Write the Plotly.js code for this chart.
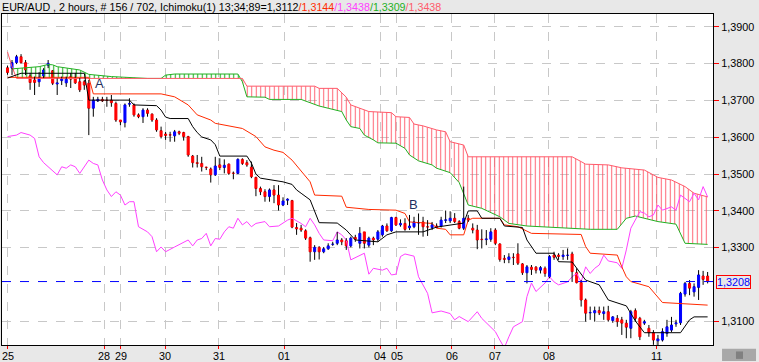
<!DOCTYPE html>
<html><head><meta charset="utf-8">
<script src="https://cdn.plot.ly/plotly-3.0.1.min.js"></script>
<style>html,body{margin:0;padding:0;background:#e8e8e8;}#chart{width:759px;height:362px;}</style>
</head><body><div id="chart"></div>
<script>
// ---- candles (2-hour bars, EUR/AUD) ----
const opens = [1.3789,1.3788,1.3803,1.3819,1.3803,1.3767,1.3756,1.3751,1.3767,1.3796,
1.3781,1.3745,1.3754,1.3748,1.3765,1.3762,1.3751,1.3751,1.3747,1.3679,
1.3699,1.3703,1.3701,1.3701,1.3692,1.3647,1.3640,1.3690,1.3688,1.3661,
1.3656,1.3674,1.3663,1.3647,1.3618,1.3609,1.3607,1.3604,1.3615,1.3613,
1.3602,1.3549,1.3531,1.3529,1.3519,1.3514,1.3498,1.3525,1.3518,1.3527,
1.3503,1.3502,1.3540,1.3531,1.3519,1.3491,1.3461,1.3452,1.3439,1.3457,
1.3443,1.3416,1.3429,1.3428,1.3355,1.3353,1.3346,1.3327,1.3289,1.3301,
1.3289,1.3297,1.3309,1.3312,1.3321,1.3319,1.3305,1.3328,1.3312,1.3343,
1.3307,1.3326,1.3323,1.3335,1.3359,1.3346,1.3382,1.3362,1.3366,1.3354,
1.3357,1.3367,1.3370,1.3357,1.3355,1.3359,1.3359,1.3374,1.3373,1.3380,
1.3371,1.3353,1.3380,1.3353,1.3348,1.3323,1.3322,1.3323,1.3348,1.3310,
1.3271,1.3268,1.3274,1.3283,1.3256,1.3232,1.3247,1.3247,1.3239,1.3244,
1.3221,1.3280,1.3280,1.3276,1.3279,1.3283,1.3232,1.3205,1.3158,1.3123,
1.3123,1.3129,1.3121,1.3126,1.3102,1.3108,1.3104,1.3095,1.3081,1.3129,
1.3108,1.3095,1.3081,1.3069,1.3047,1.3049,1.3067,1.3076,1.3093,1.3096,
1.3174,1.3203,1.3180,1.3192,1.3223,1.3223];
const highs = [1.3795,1.3810,1.3824,1.3826,1.3810,1.3775,1.3765,1.3777,1.3788,1.3810,
1.3783,1.3760,1.3765,1.3765,1.3775,1.3775,1.3761,1.3756,1.3756,1.3710,
1.3710,1.3710,1.3710,1.3715,1.3697,1.3647,1.3692,1.3706,1.3692,1.3665,
1.3679,1.3679,1.3665,1.3652,1.3629,1.3615,1.3615,1.3620,1.3618,1.3615,
1.3604,1.3552,1.3552,1.3547,1.3520,1.3518,1.3547,1.3543,1.3540,1.3529,
1.3507,1.3543,1.3543,1.3538,1.3534,1.3493,1.3466,1.3459,1.3461,1.3470,
1.3470,1.3437,1.3434,1.3430,1.3367,1.3362,1.3350,1.3330,1.3307,1.3304,
1.3302,1.3312,1.3316,1.3343,1.3326,1.3326,1.3330,1.3335,1.3356,1.3343,
1.3330,1.3330,1.3348,1.3362,1.3366,1.3384,1.3384,1.3377,1.3380,1.3389,
1.3384,1.3393,1.3384,1.3375,1.3370,1.3366,1.3384,1.3401,1.3399,1.3394,
1.3375,1.3466,1.3389,1.3366,1.3362,1.3350,1.3348,1.3353,1.3353,1.3312,
1.3280,1.3285,1.3285,1.3312,1.3258,1.3253,1.3253,1.3250,1.3250,1.3249,
1.3280,1.3289,1.3285,1.3294,1.3298,1.3289,1.3244,1.3212,1.3162,1.3140,
1.3140,1.3140,1.3140,1.3142,1.3114,1.3117,1.3112,1.3104,1.3131,1.3135,
1.3112,1.3104,1.3090,1.3076,1.3063,1.3081,1.3104,1.3112,1.3104,1.3180,
1.3207,1.3212,1.3203,1.3239,1.3237,1.3234];
const lows = [1.3770,1.3769,1.3799,1.3801,1.3769,1.3729,1.3715,1.3737,1.3761,1.3788,
1.3742,1.3715,1.3742,1.3737,1.3734,1.3745,1.3723,1.3729,1.3606,1.3656,
1.3696,1.3696,1.3683,1.3683,1.3642,1.3633,1.3627,1.3683,1.3656,1.3652,
1.3639,1.3656,1.3642,1.3615,1.3597,1.3593,1.3588,1.3588,1.3606,1.3591,
1.3547,1.3518,1.3518,1.3507,1.3511,1.3477,1.3495,1.3511,1.3502,1.3498,
1.3486,1.3500,1.3525,1.3520,1.3489,1.3440,1.3443,1.3425,1.3425,1.3421,
1.3401,1.3413,1.3416,1.3353,1.3335,1.3343,1.3321,1.3262,1.3267,1.3268,
1.3285,1.3294,1.3305,1.3307,1.3307,1.3294,1.3301,1.3316,1.3298,1.3298,
1.3301,1.3307,1.3316,1.3330,1.3343,1.3343,1.3359,1.3357,1.3346,1.3348,
1.3353,1.3335,1.3330,1.3332,1.3348,1.3353,1.3355,1.3367,1.3367,1.3367,
1.3350,1.3348,1.3370,1.3339,1.3296,1.3298,1.3307,1.3316,1.3307,1.3262,
1.3258,1.3258,1.3253,1.3253,1.3226,1.3203,1.3226,1.3230,1.3230,1.3221,
1.3217,1.3267,1.3267,1.3267,1.3267,1.3207,1.3203,1.3140,1.3099,1.3104,
1.3099,1.3117,1.3104,1.3099,1.3096,1.3085,1.3063,1.3054,1.3054,1.3099,
1.3049,1.3090,1.3058,1.3036,1.3031,1.3045,1.3058,1.3071,1.3085,1.3090,
1.3167,1.3171,1.3167,1.3158,1.3199,1.3203];
const closes = [1.3776,1.3803,1.3819,1.3803,1.3783,1.3749,1.3749,1.3763,1.3783,1.3801,
1.3747,1.3748,1.3760,1.3758,1.3758,1.3748,1.3729,1.3742,1.3679,1.3701,
1.3703,1.3699,1.3700,1.3694,1.3647,1.3642,1.3688,1.3692,1.3661,1.3656,
1.3674,1.3665,1.3647,1.3620,1.3602,1.3605,1.3606,1.3615,1.3611,1.3602,
1.3552,1.3531,1.3529,1.3520,1.3518,1.3498,1.3522,1.3518,1.3524,1.3502,
1.3502,1.3540,1.3529,1.3525,1.3493,1.3461,1.3452,1.3439,1.3457,1.3443,
1.3416,1.3427,1.3432,1.3356,1.3351,1.3348,1.3326,1.3289,1.3301,1.3289,
1.3297,1.3305,1.3310,1.3321,1.3316,1.3305,1.3326,1.3323,1.3339,1.3312,
1.3326,1.3321,1.3343,1.3359,1.3346,1.3382,1.3362,1.3366,1.3350,1.3359,
1.3370,1.3368,1.3357,1.3356,1.3362,1.3355,1.3375,1.3376,1.3380,1.3371,
1.3353,1.3380,1.3375,1.3348,1.3321,1.3322,1.3324,1.3343,1.3312,1.3268,
1.3268,1.3275,1.3273,1.3258,1.3232,1.3248,1.3241,1.3239,1.3246,1.3230,
1.3276,1.3274,1.3276,1.3280,1.3280,1.3235,1.3205,1.3158,1.3122,1.3124,
1.3129,1.3123,1.3126,1.3104,1.3112,1.3099,1.3095,1.3084,1.3126,1.3108,
1.3058,1.3099,1.3069,1.3049,1.3052,1.3072,1.3085,1.3090,1.3096,1.3176,
1.3203,1.3190,1.3194,1.3226,1.3214,1.3208];

// ---- Ichimoku lines (bar index / value at the line's corners) ----
const tenkanBar = [0,3,17,18,27,28,33,34,35,36,40,41,42,43,45,46,47,53,54,55,56,59,61,63,64,65,67,69,73,75,77,82,84,86,92,95,101,102,104,105,109,110,114,115,117,121,122,125,128,131,133,137,139,141,149,151,152,155];
const tenkanVal = [1.3761,1.3774,1.3774,1.3701,1.3701,1.3688,1.3686,1.3674,1.3655,1.3651,1.3651,1.3629,1.3613,1.3601,1.3593,1.3580,1.3549,1.3549,1.3530,1.3500,1.3489,1.3484,1.3479,1.3472,1.3457,1.3448,1.3430,1.3368,1.3367,1.3348,1.3321,1.3316,1.3335,1.3343,1.3343,1.3356,1.3367,1.3400,1.3400,1.3380,1.3380,1.3359,1.3355,1.3321,1.3285,1.3285,1.3262,1.3261,1.3212,1.3199,1.3158,1.3142,1.3101,1.3069,1.3069,1.3104,1.3112,1.3112];

const kijunBar = [0,18,19,34,37,40,42,45,46,49,52,55,57,59,61,63,65,67,68,74,75,80,86,88,89,94,95,97,98,101,102,103,109,110,113,116,127,128,129,135,136,137,138,142,145,155];
const kijunVal = [1.3763,1.3763,1.3718,1.3718,1.3710,1.3688,1.3661,1.3647,1.3638,1.3631,1.3624,1.3602,1.3574,1.3565,1.3559,1.3538,1.3507,1.3479,1.3443,1.3440,1.3410,1.3404,1.3402,1.3393,1.3370,1.3366,1.3353,1.3350,1.3335,1.3335,1.3375,1.3380,1.3380,1.3362,1.3357,1.3339,1.3336,1.3303,1.3285,1.3280,1.3248,1.3221,1.3208,1.3194,1.3151,1.3144];

const chikouBar = [0,2,3,5,6,7,8,9,10,11,12,13,14,15,16,17,18,19,20,21,22,23,24,25,26,27,28,29,31,32,33,34,35,37,39,40,41,42,43,44,45,46,47,48,49,50,51,52,53,54,55,57,58,60,62,63,65,66,67,68,69,70,72,73,74,75,76,78,79,80,81,83,84,85,86,87,88,90,91,93,94,96,98,99,100,102,104,105,108,109,110,111,112,114,115,116,117,119,120,121,122,124,125,126,127,128,129,130,131,132,133,135,136,137,138,140,141,142,143,144,145,147,148,149,150,151,152,153,154,155];
const chikouVal = [1.3602,1.3606,1.3613,1.3606,1.3597,1.3547,1.3531,1.3520,1.3511,1.3498,1.3520,1.3516,1.3525,1.3520,1.3502,1.3520,1.3538,1.3529,1.3525,1.3484,1.3457,1.3439,1.3452,1.3443,1.3416,1.3425,1.3425,1.3357,1.3343,1.3330,1.3289,1.3302,1.3289,1.3302,1.3316,1.3321,1.3305,1.3321,1.3325,1.3339,1.3305,1.3325,1.3323,1.3343,1.3357,1.3353,1.3380,1.3362,1.3371,1.3357,1.3366,1.3371,1.3357,1.3359,1.3375,1.3380,1.3366,1.3357,1.3380,1.3362,1.3339,1.3321,1.3319,1.3343,1.3335,1.3321,1.3267,1.3280,1.3285,1.3228,1.3244,1.3239,1.3244,1.3226,1.3228,1.3276,1.3283,1.3277,1.3221,1.3176,1.3123,1.3128,1.3121,1.3104,1.3113,1.3099,1.3126,1.3108,1.3072,1.3049,1.3028,1.3058,1.3085,1.3099,1.3167,1.3204,1.3181,1.3204,1.3221,1.3207,1.3199,1.3207,1.3221,1.3230,1.3207,1.3248,1.3230,1.3244,1.3253,1.3280,1.3264,1.3259,1.3244,1.3294,1.3353,1.3398,1.3394,1.3384,1.3389,1.3416,1.3402,1.3411,1.3402,1.3443,1.3434,1.3425,1.3448,1.3430,1.3466,1.3438];

const senkouABar = [0,1,2,52,53,68,69,73,75,76,80,85,86,89,90,92,95,97,98,101,102,125,127,128,133,136,141,144,147,150,152,155];
const senkouAVal = [1.3832,1.3792,1.3760,1.3760,1.3739,1.3739,1.3733,1.3733,1.3709,1.3688,1.3670,1.3667,1.3656,1.3654,1.3636,1.3631,1.3620,1.3615,1.3588,1.3579,1.3547,1.3547,1.3534,1.3527,1.3525,1.3517,1.3511,1.3491,1.3484,1.3466,1.3448,1.3438];

const senkouBBar = [1,4,7,9,10,11,16,18,20,23,31,34,35,37,51,52,53,57,58,65,67,69,71,74,75,76,78,79,81,82,86,88,89,91,94,95,98,100,102,105,109,111,115,129,135,137,139,144,148,150,155];
const senkouBVal = [1.3786,1.3788,1.3792,1.3798,1.3797,1.3792,1.3783,1.3771,1.3769,1.3765,1.3760,1.3760,1.3769,1.3772,1.3772,1.3751,1.3710,1.3709,1.3703,1.3703,1.3694,1.3685,1.3679,1.3670,1.3647,1.3629,1.3624,1.3606,1.3593,1.3585,1.3584,1.3570,1.3552,1.3536,1.3525,1.3516,1.3504,1.3477,1.3416,1.3407,1.3384,1.3366,1.3359,1.3350,1.3350,1.3380,1.3386,1.3371,1.3364,1.3312,1.3309];

// ---- axis labels ----
const dayTickBars = [0.1,21.4,25.1,34.9,46.8,61.3,82.5,86.2,98.3,107.9,119.8,143.6];
const dayLabels = ['25','28','29','30','31','01','04','05','06','07','08','11'];
const priceTicks = [1.31,1.33,1.34,1.35,1.36,1.37,1.38,1.39];
const cloudSwitchBar = 52;
const marks = [{t:'A', bar:20.3, v:1.3746},{t:'B', bar:89.9, v:1.3417}];

// ---- build traces ----
const N = opens.length;
const bars = opens.map((_, i) => i);
const bodyLen = closes.map((c, i) => c - opens[i]);
const bodyColor = closes.map((c, i) => c >= opens[i] ? '#0000ff' : '#ff0000');
const wx = [], wy = [];
for (let i = 0; i < N; i++) {
  const top = Math.max(opens[i], closes[i]), bot = Math.min(opens[i], closes[i]);
  wx.push(i, i, null, i, i, null);
  wy.push(highs[i], top, null, bot, lows[i], null);
}
function pick(xs, ys, test) {
  const sx = [], sy = [];
  xs.forEach((x, i) => { if (test(x)) { sx.push(x); sy.push(ys[i]); } });
  return [sx, sy];
}
const [aEx, aEy] = pick(senkouABar, senkouAVal, x => x <= cloudSwitchBar);
const [bEx, bEy] = pick(senkouBBar, senkouBVal, x => x <= cloudSwitchBar);
const [aLx, aLy] = pick(senkouABar, senkouAVal, x => x >= cloudSwitchBar);
const [bLx, bLy] = pick(senkouBBar, senkouBVal, x => x >= cloudSwitchBar);

const traces = [
  {type:'scatter', mode:'lines', x:aEx, y:aEy, line:{width:0}, hoverinfo:'skip'},
  {type:'scatter', mode:'lines', x:bEx, y:bEy, line:{width:0}, fill:'tonexty', fillcolor:'rgba(0,0,0,0)',
   fillpattern:{shape:'|', size:4.5, solidity:0.24, fgcolor:'#22b022', bgcolor:'rgba(0,0,0,0)'}, hoverinfo:'skip'},
  {type:'scatter', mode:'lines', x:aLx, y:aLy, line:{width:0}, hoverinfo:'skip'},
  {type:'scatter', mode:'lines', x:bLx, y:bLy, line:{width:0}, fill:'tonexty', fillcolor:'rgba(0,0,0,0)',
   fillpattern:{shape:'|', size:4.5, solidity:0.22, fgcolor:'#ff4d5e', fgopacity:0.9, bgcolor:'rgba(0,0,0,0)'}, hoverinfo:'skip'},
  {type:'scatter', mode:'lines', x:senkouBBar, y:senkouBVal, line:{color:'#22b022', width:1}},
  {type:'scatter', mode:'lines', x:senkouABar, y:senkouAVal, line:{color:'#ff5a6a', width:1}},
  {type:'scatter', mode:'lines', x:chikouBar, y:chikouVal, line:{color:'#ff40ff', width:1}},
  {type:'scatter', mode:'lines', x:kijunBar, y:kijunVal, line:{color:'#ff2a00', width:1}},
  {type:'scatter', mode:'lines', x:tenkanBar, y:tenkanVal, line:{color:'#000000', width:1}},
  {type:'scatter', mode:'lines', x:wx, y:wy, line:{color:'#000000', width:1}, connectgaps:false},
  {type:'bar', x:bars, y:bodyLen, base:opens, width:0.45,
   marker:{color:bodyColor, line:{color:bodyColor, width:1}}}
];

const lastPrice = closes[N - 1];
const fmt = v => v.toFixed(4).replace('.', ',');
const titleText = 'EUR/AUD , 2 hours, # 156 / 702, Ichimoku(1) 13;34;89=' + fmt(tenkanVal[tenkanVal.length-1]) +
  '<span style="color:#ff2a00">/' + fmt(kijunVal[kijunVal.length-1]) + '</span>' +
  '<span style="color:#ff40ff">/' + fmt(chikouVal[chikouVal.length-1]) + '</span>' +
  '<span style="color:#22b022">/' + fmt(senkouBVal[senkouBVal.length-1]) + '</span>' +
  '<span style="color:#ff5a6a">/' + fmt(senkouAVal[senkouAVal.length-1]) + '</span>';

const font = 'Liberation Sans, Arial, sans-serif';
const annotations = [
  {xref:'paper', yref:'paper', x:0, y:1, xanchor:'left', yanchor:'bottom', xshift:-2, yshift:-1,
   text:titleText, showarrow:false, font:{family:font, size:10.7, color:'#000'}},
  {xref:'paper', yref:'y', x:1, y:lastPrice, xanchor:'left', yanchor:'middle', xshift:3,
   text:fmt(lastPrice), showarrow:false, font:{family:font, size:10.8, color:'#0000ff'},
   bordercolor:'#ff0000', borderwidth:1, borderpad:0, bgcolor:'#e8e8e8'}
];
marks.forEach(m => annotations.push({x:m.bar, y:m.v, text:m.t, showarrow:false,
  font:{family:font, size:13, color:'#1f3060'}}));
dayTickBars.forEach((b, i) => annotations.push({x:b, xref:'x', y:0, yref:'paper', yanchor:'top', yshift:-3,
  text:dayLabels[i], showarrow:false, font:{family:font, size:10.8, color:'#000'}}));

const layout = {
  width:759, height:362, margin:{l:2, r:46, t:14, b:17, pad:0},
  paper_bgcolor:'#e8e8e8', plot_bgcolor:'#ffffff', showlegend:false,
  separators:',.', barmode:'overlay',
  xaxis:{range:[-1.218, 156.19], tickvals:dayTickBars, showticklabels:false, ticks:'outside', ticklen:3,
    tickcolor:'#ff0000', tickwidth:1,
    showgrid:true, gridcolor:'#c8c8c8', griddash:'dash', gridwidth:1,
    showline:true, linecolor:'#000', linewidth:1, mirror:true, zeroline:false, fixedrange:true},
  yaxis:{side:'right', range:[1.30356, 1.39351], tickvals:priceTicks, tickformat:'.4f', ticks:'outside', ticklen:5,
    tickcolor:'#ff0000', tickwidth:1, tickfont:{family:font, size:10.8, color:'#000'},
    showgrid:true, gridcolor:'#c8c8c8', griddash:'dash', gridwidth:1,
    showline:true, linecolor:'#000', linewidth:1, mirror:true, zeroline:false, fixedrange:true},
  shapes:[
    {type:'line', xref:'paper', x0:0, x1:1, yref:'y', y0:lastPrice, y1:lastPrice,
     line:{color:'#0000ff', width:1, dash:'dash'}},
    {type:'rect', xref:'paper', yref:'paper', x0:1.0127, x1:1.0605, y0:-0.0115, y1:-0.0483,
     fillcolor:'#a8a8a8', line:{width:0}},
    {type:'rect', xref:'paper', yref:'paper', x0:1.0323, x1:1.0422, y0:-0.0195, y1:-0.0420,
     fillcolor:'#808080', line:{width:0}}
  ],
  annotations:annotations
};
Plotly.newPlot('chart', traces, layout, {staticPlot:true, displayModeBar:false});
</script></body></html>
